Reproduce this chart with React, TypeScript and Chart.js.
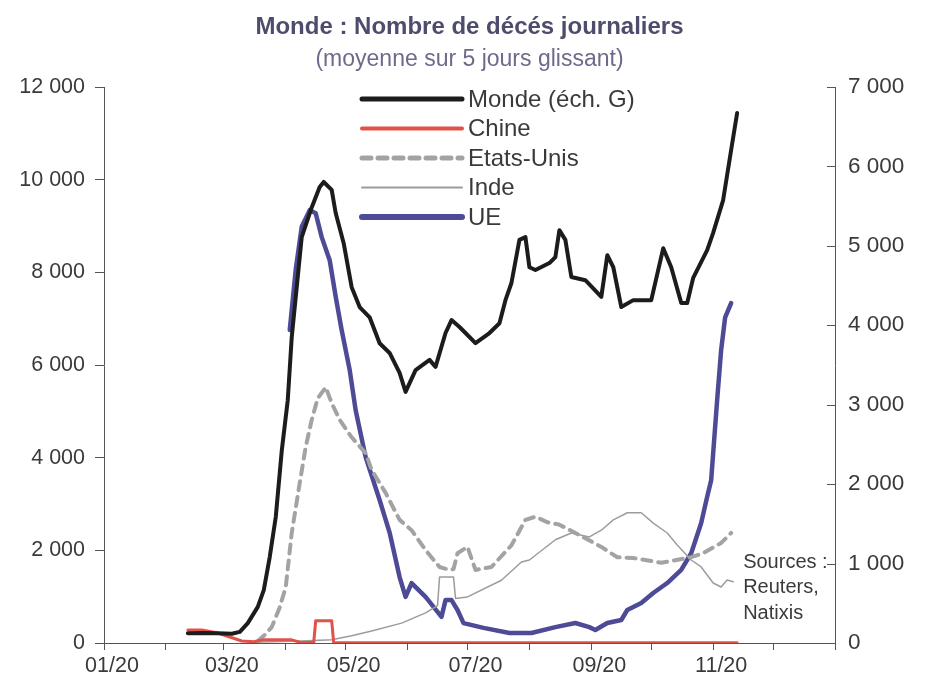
import React, { useEffect, useRef } from 'react';
import { Chart, registerables } from 'chart.js';

Chart.register(...registerables);

const YEAR = 2020;
const FONT = "'Liberation Sans Narrow', 'Liberation Sans', Arial, sans-serif";
const TEXT_COLOR = '#3a3a3a';

const titleText = 'Monde : Nombre de décés journaliers';
const subtitleText = '(moyenne sur 5 jours glissant)';
const sourceLines = ['Sources :', 'Reuters,', 'Natixis'];

const monthTickLabels = ['01/20', '', '03/20', '', '05/20', '', '07/20', '', '09/20', '', '11/20', '', ''];
const leftTicks = [0, 2000, 4000, 6000, 8000, 10000, 12000];
const rightTicks = [0, 1000, 2000, 3000, 4000, 5000, 6000, 7000];

// Monde (left scale)
const mondeDates = ['02-12','02-19','02-27','03-05','03-09','03-13','03-18','03-21','03-24','03-27','03-30','04-02','04-04','04-09','04-14','04-18','04-20','04-24','04-26','04-30','05-04','05-08','05-13','05-18','05-23','05-28','05-31','06-05','06-12','06-15','06-20','06-23','06-27','06-30','07-05','07-12','07-17','07-20','07-23','07-27','07-30','08-01','08-04','08-11','08-14','08-16','08-19','08-22','08-29','09-06','09-09','09-12','09-16','09-22','10-01','10-07','10-11','10-16','10-19','10-22','10-29','11-01','11-06','11-10','11-13'];
const mondeValues = [210,215,210,200,240,430,780,1140,1860,2720,4150,5240,6600,8760,9400,9840,9950,9780,9280,8630,7680,7250,7030,6470,6260,5830,5420,5890,6110,5960,6690,6970,6820,6690,6470,6690,6900,7400,7770,8700,8760,8110,8050,8200,8330,8910,8700,7900,7830,7470,8370,8110,7250,7400,7400,8520,8110,7340,7340,7880,8480,8850,9560,10640,11440];

// Chine (right scale)
const chineDates = ['02-12','02-19','02-27','03-04','03-10','03-16','03-21','04-04','04-08','04-15','04-16','04-24','04-25','06-01','08-01','10-01','11-13'];
const chineValues = [165,165,125,75,25,15,40,40,10,5,280,280,5,2,2,2,2];

// Etats-Unis (right scale)
const usDates = ['03-18','03-21','03-25','03-29','04-01','04-04','04-08','04-11','04-14','04-17','04-21','04-24','04-28','05-04','05-11','05-14','05-21','05-28','06-03','06-10','06-17','06-22','06-24','06-26','07-01','07-05','07-13','07-23','07-30','08-04','08-10','08-16','08-24','09-06','09-14','09-22','10-06','10-21','10-27','11-05','11-10'];
const usValues = [25,90,200,450,705,1385,2015,2470,2810,3080,3220,3020,2810,2590,2390,2180,1890,1550,1420,1170,957,920,930,1130,1210,920,957,1230,1550,1590,1520,1490,1385,1210,1080,1070,1010,1080,1130,1260,1385];

// Inde (right scale)
const indeDates = ['03-15','04-09','04-24','05-04','05-14','05-29','06-10','06-16','06-17','06-24','06-25','07-01','07-18','07-28','08-01','08-14','08-22','08-31','09-06','09-12','09-19','09-26','10-02','10-09','10-14','10-21','10-26','11-01','11-05','11-08','11-11'];
const indeValues = [10,25,40,90,150,250,380,470,830,830,560,580,790,1020,1045,1300,1385,1335,1420,1550,1640,1640,1510,1385,1235,1045,957,755,705,793,770];

// UE (right scale)
const ueDates = ['04-03','04-06','04-09','04-13','04-16','04-19','04-23','04-26','04-29','05-03','05-06','05-11','05-18','05-23','05-28','05-31','06-03','06-10','06-18','06-20','06-23','06-26','06-29','07-09','07-22','08-02','08-14','08-24','08-31','09-03','09-09','09-16','09-19','09-26','10-02','10-09','10-16','10-21','10-26','10-29','10-31','11-03','11-05','11-07','11-10'];
const ueValues = [3940,4700,5240,5450,5410,5110,4820,4360,3940,3440,2930,2340,1800,1390,830,580,755,580,330,540,540,415,250,190,126,126,200,252,200,164,252,290,415,504,630,755,920,1130,1510,1840,2050,3060,3690,4100,4280];

const DAY_MS = 86400000;
const dayOfYear = (md: string) => {
  const [m, d] = md.split('-').map(Number);
  return (Date.UTC(YEAR, m - 1, d) - Date.UTC(YEAR, 0, 1)) / DAY_MS;
};
const monthStarts = Array.from({ length: 13 }, (_, i) => (Date.UTC(YEAR, i, 1) - Date.UTC(YEAR, 0, 1)) / DAY_MS);
const toPoints = (dates: string[], values: number[]) => dates.map((d, i) => ({ x: dayOfYear(d), y: values[i] }));
const fmt = (v: number) => String(v).replace(/\B(?=(\d{3})+(?!\d))/g, ' ');

const overlayPlugin = {
  id: 'overlay',
  afterDraw(chart: any) {
    const ctx = chart.ctx;
    const area = chart.chartArea;
    ctx.save();
    // title
    const cx = (area.left + area.right) / 2;
    ctx.textAlign = 'center';
    ctx.textBaseline = 'middle';
    ctx.fillStyle = '#4e4c6c';
    ctx.font = `bold 24px ${FONT}`;
    ctx.fillText(titleText, cx, 27);
    ctx.fillStyle = '#6f6a8c';
    ctx.font = `23px ${FONT}`;
    ctx.fillText(subtitleText, cx, 60);

    // inward ticks on right axis
    const yr = chart.scales.yRight;
    ctx.strokeStyle = '#555';
    ctx.lineWidth = 1;
    yr.ticks.forEach((t: any) => {
      const p = Math.round(yr.getPixelForValue(t.value)) + 0.5;
      ctx.beginPath();
      ctx.moveTo(area.right - 8, p);
      ctx.lineTo(area.right, p);
      ctx.stroke();
    });

    // legend
    const lx0 = area.left + 258;
    const lx1 = lx0 + 100;
    chart.data.datasets.forEach((ds: any, i: number) => {
      const y = area.top + 12 + i * 29.5;
      ctx.save();
      ctx.strokeStyle = ds.borderColor;
      ctx.lineWidth = ds.legendWidth;
      ctx.lineCap = 'round';
      ctx.setLineDash(ds.borderDash || []);
      ctx.beginPath();
      ctx.moveTo(lx0, y);
      ctx.lineTo(lx1, y);
      ctx.stroke();
      ctx.restore();
      ctx.fillStyle = TEXT_COLOR;
      ctx.textAlign = 'left';
      ctx.textBaseline = 'middle';
      ctx.font = `24px ${FONT}`;
      ctx.fillText(ds.label, lx1 + 6, y + 1);
    });

    // sources
    ctx.fillStyle = TEXT_COLOR;
    ctx.font = `20px ${FONT}`;
    ctx.textAlign = 'left';
    const xs = chart.scales.x;
    const sx = xs.getPixelForValue(dayOfYear('11-13')) + 6;
    sourceLines.forEach((s, i) => ctx.fillText(s, sx, 562 + i * 25.5));
    ctx.restore();
  },
};

export default function App() {
  const ref = useRef<HTMLCanvasElement>(null);
  useEffect(() => {
    if (!ref.current) return;
    const chart = new Chart(ref.current, {
      type: 'line',
      data: {
        datasets: [
          { label: 'Monde (éch. G)', data: toPoints(mondeDates, mondeValues), yAxisID: 'yLeft', borderColor: '#1c1c1c', borderWidth: 4, legendWidth: 5 } as any,
          { label: 'Chine', data: toPoints(chineDates, chineValues), yAxisID: 'yRight', borderColor: '#e0534b', borderWidth: 3, legendWidth: 4 } as any,
          { label: 'Etats-Unis', data: toPoints(usDates, usValues), yAxisID: 'yRight', borderColor: '#a3a3a3', borderWidth: 4, borderDash: [9, 7], legendWidth: 5 } as any,
          { label: 'Inde', data: toPoints(indeDates, indeValues), yAxisID: 'yRight', borderColor: '#9c9c9c', borderWidth: 1.5, legendWidth: 2 } as any,
          { label: 'UE', data: toPoints(ueDates, ueValues), yAxisID: 'yRight', borderColor: '#4d4b96', borderWidth: 4.5, legendWidth: 6 } as any,
        ],
      },
      options: {
        responsive: false,
        maintainAspectRatio: false,
        animation: false,
        parsing: false,
        layout: { padding: { top: 87, left: 0, right: 0, bottom: 0 } },
        elements: {
          point: { radius: 0 },
          line: { tension: 0, borderCapStyle: 'round', borderJoinStyle: 'round' },
        },
        plugins: { legend: { display: false }, title: { display: false }, tooltip: { enabled: false } },
        scales: {
          x: {
            type: 'linear',
            min: 0,
            max: monthStarts[12],
            afterBuildTicks: (s: any) => { s.ticks = monthStarts.map((v) => ({ value: v })); },
            afterFit: (s: any) => { s.height = 50; },
            ticks: {
              autoSkip: false,
              maxRotation: 0,
              padding: 3,
              labelOffset: 8,
              color: TEXT_COLOR,
              font: { size: 21.5, family: FONT },
              callback: (_v: any, i: number) => monthTickLabels[i],
            },
            grid: { drawOnChartArea: false, drawTicks: true, tickLength: 7, color: '#555' },
            border: { display: true, color: '#555', width: 1 },
          },
          yLeft: {
            type: 'linear',
            position: 'left',
            min: 0,
            max: 12000,
            afterBuildTicks: (s: any) => { s.ticks = leftTicks.map((v) => ({ value: v })); },
            afterFit: (s: any) => { s.width = 104; },
            ticks: { color: TEXT_COLOR, font: { size: 21.5, family: FONT }, padding: 10, callback: (v: any) => fmt(v) },
            grid: { drawOnChartArea: false, drawTicks: true, tickLength: 9, color: '#555' },
            border: { display: true, color: '#555', width: 1 },
          },
          yRight: {
            type: 'linear',
            position: 'right',
            min: 0,
            max: 7000,
            afterBuildTicks: (s: any) => { s.ticks = rightTicks.map((v) => ({ value: v })); },
            afterFit: (s: any) => { s.width = 92; },
            ticks: { color: TEXT_COLOR, font: { size: 22.5, family: FONT }, padding: 13, callback: (v: any) => fmt(v) },
            grid: { drawOnChartArea: false, drawTicks: false, color: '#555' },
            border: { display: true, color: '#555', width: 1 },
          },
        },
      } as any,
      plugins: [overlayPlugin],
    });
    return () => chart.destroy();
  }, []);
  return (
    <div style={{ position: 'fixed', left: 0, top: 0, width: 927, height: 693, background: '#fff' }}>
      <canvas ref={ref} width={927} height={693} style={{ width: 927, height: 693 }} />
    </div>
  );
}
